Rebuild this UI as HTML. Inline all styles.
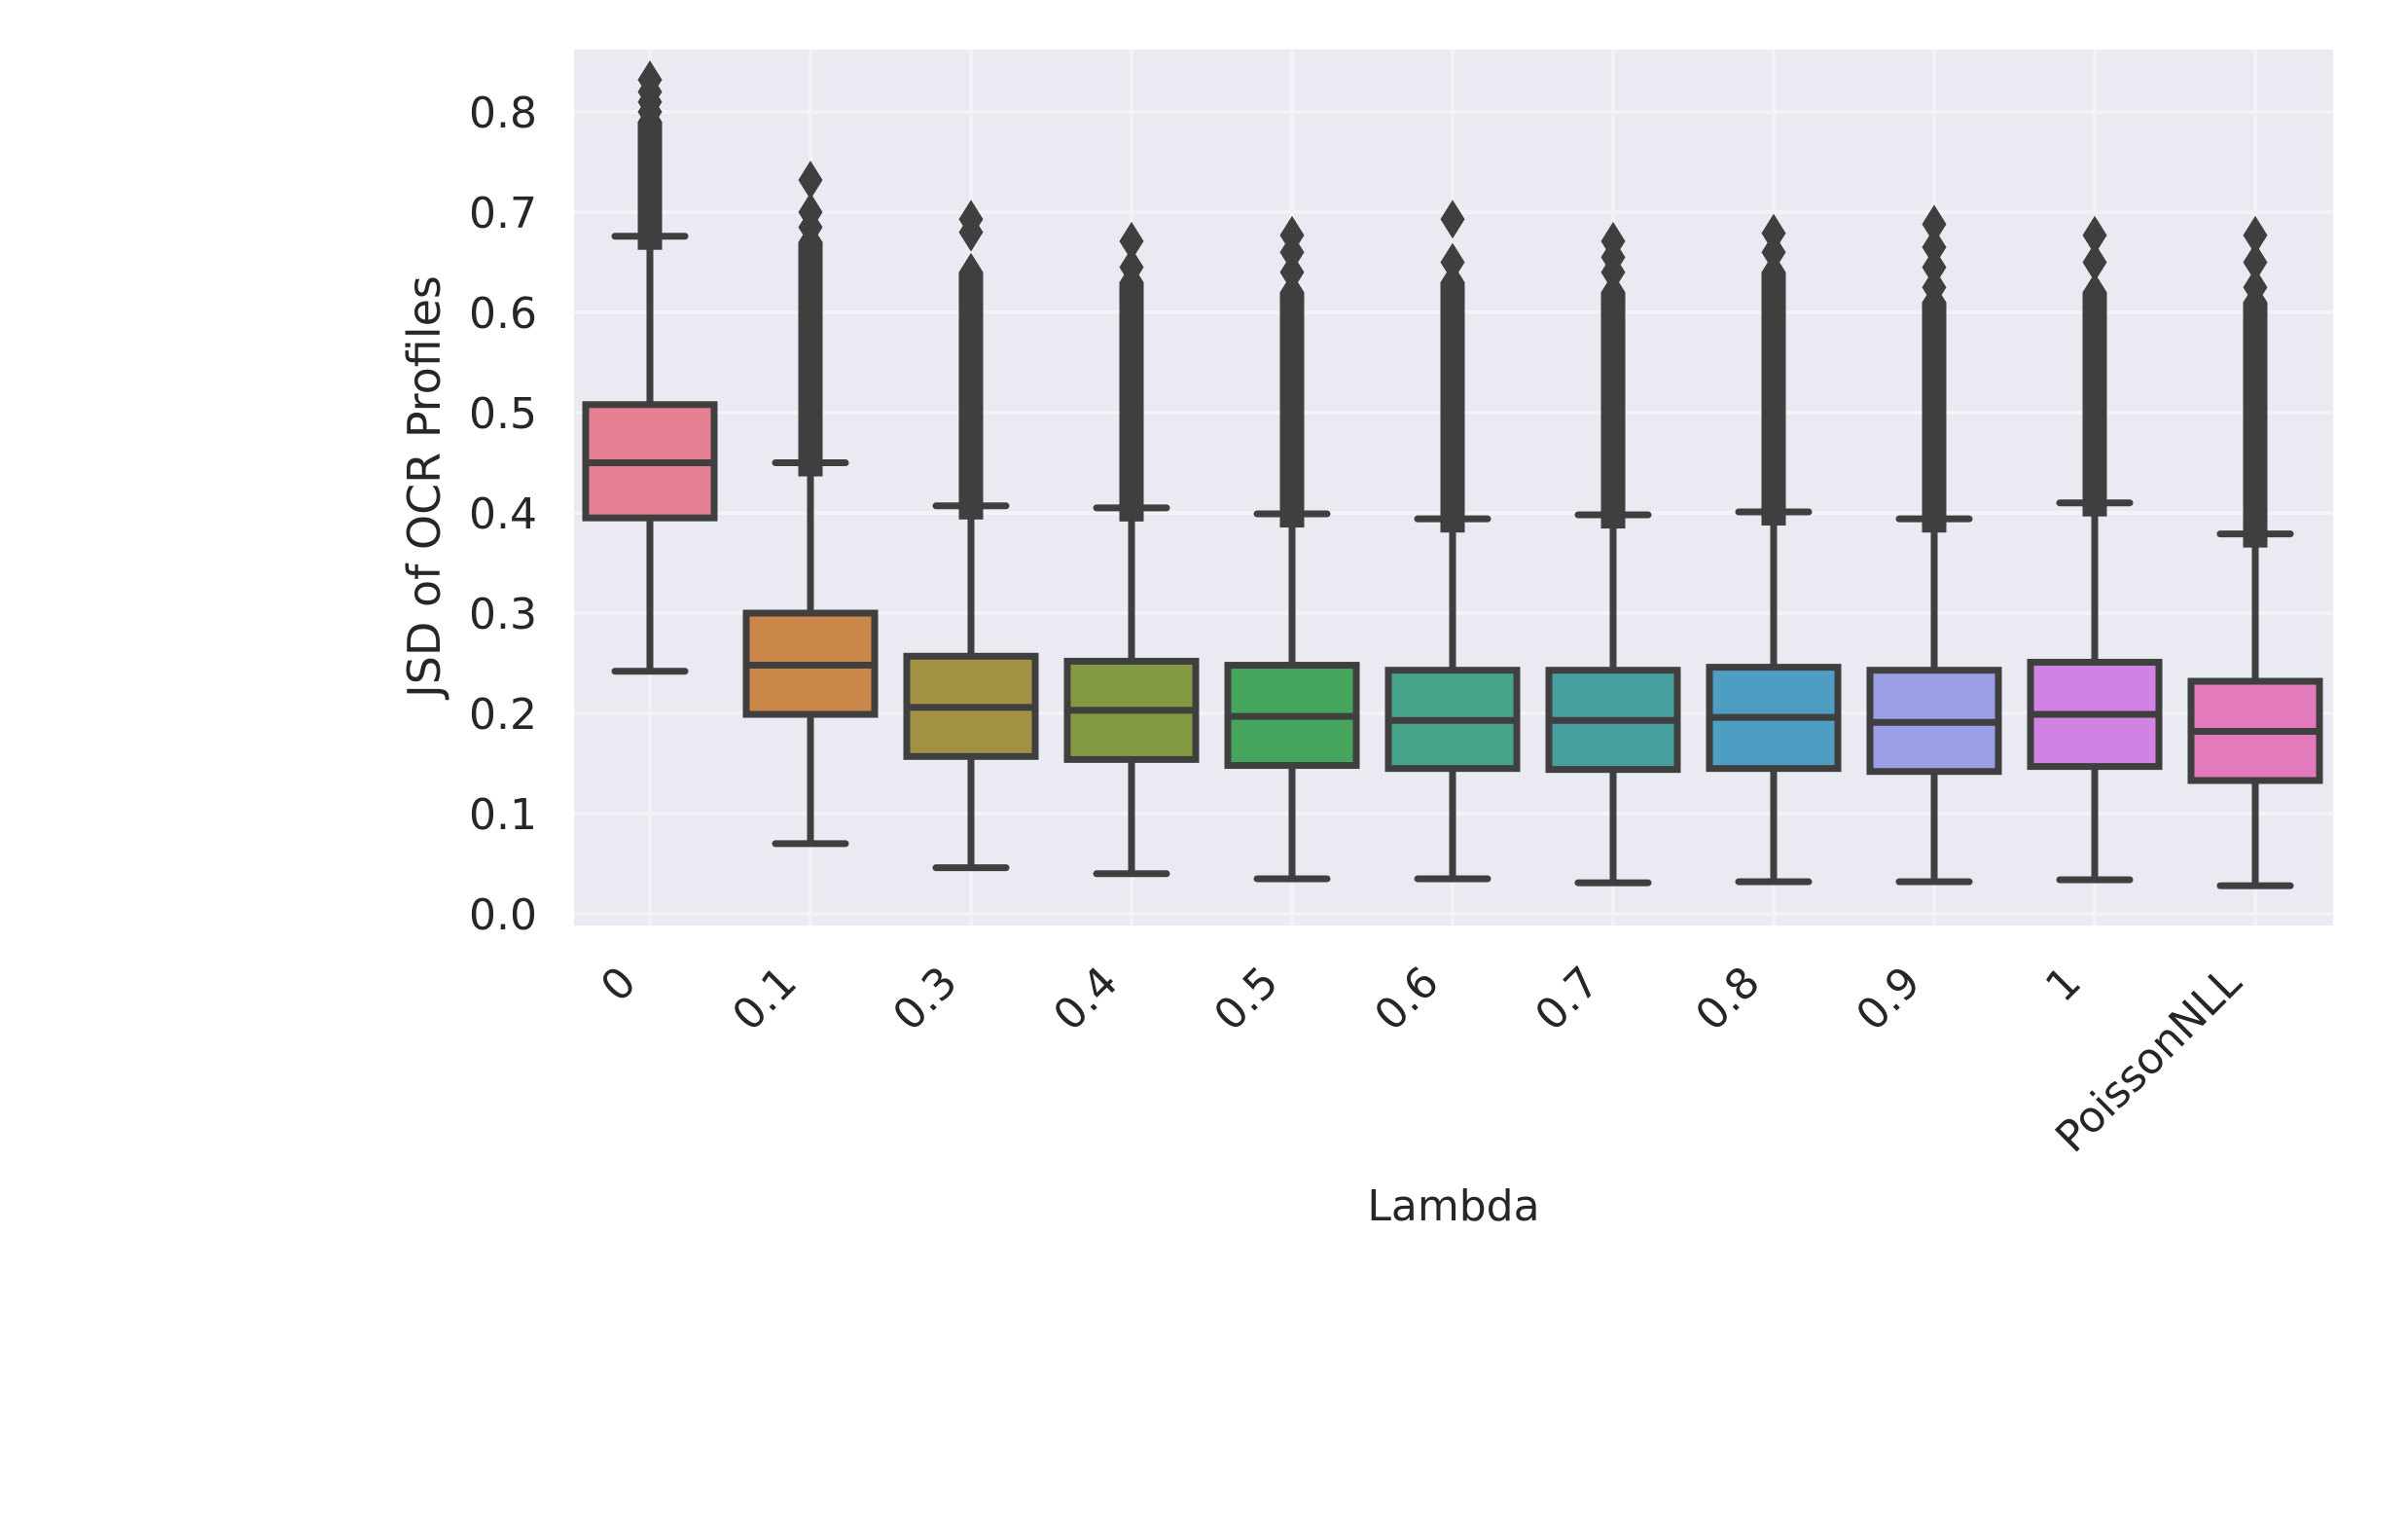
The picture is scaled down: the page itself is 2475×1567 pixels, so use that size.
<!DOCTYPE html>
<html><head><meta charset="utf-8"><style>
html,body{margin:0;padding:0;background:#fff;}
svg{display:block;font-family:"DejaVu Sans","Liberation Sans",sans-serif;}
</style></head><body>
<svg id="chart" width="2475" height="1567" viewBox="0 0 2475 1567" xmlns="http://www.w3.org/2000/svg">
<rect x="590" y="51" width="1808" height="900" fill="#eaeaf2"/>
<g id="grid"></g>
<g id="boxes"></g>
<g id="yticks"></g>
<g id="xticks"></g>
<text x="1494" y="1254" font-size="44" fill="#262626" text-anchor="middle">Lambda</text>
<text x="0" y="0" font-size="46" fill="#262626" text-anchor="middle" transform="translate(452,500) rotate(-90)">JSD of OCR Profiles</text>
</svg>
<script>
const categories = ["0","0.1","0.3","0.4","0.5","0.6","0.7","0.8","0.9","1","PoissonNLL"];
const q1 = [0.395,0.199,0.157,0.154,0.148,0.145,0.144,0.145,0.142,0.147,0.133];
const medians = [0.450,0.248,0.206,0.203,0.197,0.193,0.193,0.196,0.191,0.199,0.182];
const q3 = [0.508,0.300,0.257,0.252,0.248,0.243,0.243,0.246,0.243,0.251,0.232];
const whiskerLow = [0.242,0.070,0.046,0.040,0.035,0.035,0.031,0.032,0.032,0.034,0.028];
const whiskerHigh = [0.676,0.450,0.407,0.405,0.399,0.394,0.398,0.401,0.394,0.410,0.379];
const denseOutlierTop = [0.790,0.670,0.640,0.630,0.620,0.630,0.620,0.640,0.610,0.620,0.610];
const sparseOutliers = [
  [0.80,0.81,0.82,0.832],
  [0.685,0.70,0.732],
  [0.68,0.693],
  [0.645,0.671],
  [0.64,0.66,0.677],
  [0.65,0.693],
  [0.64,0.655,0.671],
  [0.66,0.679],
  [0.625,0.645,0.665,0.688],
  [0.65,0.677],
  [0.625,0.65,0.677]
];
const colors = ["#e58093","#c9874a","#a39143","#849a42","#45a55c","#47a38a","#479f9f","#4e9ec4","#9b9fe6","#d083e3","#e27abb"];
const yTicks = [0.0,0.1,0.2,0.3,0.4,0.5,0.6,0.7,0.8];

const NS = "http://www.w3.org/2000/svg";
const X0 = 668, DX = 165;
function xPos(i){ return X0 + DX*i; }
function yPos(v){ return 939 - v*1030; }
function mk(tag, attrs, parent){
  const e = document.createElementNS(NS, tag);
  for (const k in attrs) e.setAttribute(k, attrs[k]);
  parent.appendChild(e); return e;
}
const grid = document.getElementById('grid');
const boxes = document.getElementById('boxes');
const yt = document.getElementById('yticks');
const xt = document.getElementById('xticks');
const STROKE = "#3f3f3f";

yTicks.forEach(v => {
  const l = mk('line', {x1:590, x2:2398, y1:yPos(v), y2:yPos(v), stroke:"#f3f3f7", "stroke-width":4}, grid);
  
  
  const t = mk('text', {x:552, y:yPos(v)+16, "font-size":44, fill:"#262626", "text-anchor":"end"}, yt);
  t.textContent = v.toFixed(1);
  
  
});
categories.forEach((c, i) => {
  const l = mk('line', {x1:xPos(i), x2:xPos(i), y1:51, y2:951, stroke:"#f3f3f7", "stroke-width":4}, grid);
  
  
  const t = mk('text', {x:0, y:0, "font-size":44, fill:"#262626", "text-anchor":"end", transform:"translate("+(xPos(i)-12)+",1012) rotate(-45)"}, xt);
  t.textContent = c;
  
  
});

const HALF = 66, CAP = 36, SW = 7;
function diamond(g, cx, v){
  const cy = yPos(v);
  const p = mk('path', {d:"M"+cx+" "+(cy-20)+"L"+(cx+12.5)+" "+cy+"L"+cx+" "+(cy+20)+"L"+(cx-12.5)+" "+cy+"Z", fill:STROKE}, g);
  
  
}
categories.forEach((c, i) => {
  const g = mk('g', {}, boxes);
  
  
  const cx = xPos(i);
  const dense = mk('rect', {x:cx-12.5, y:yPos(denseOutlierTop[i]), width:25, height:yPos(whiskerHigh[i])-yPos(denseOutlierTop[i])+14, fill:STROKE}, g);
  
  
  diamond(g, cx, whiskerHigh[i]+0.002);
  diamond(g, cx, denseOutlierTop[i]);
  sparseOutliers[i].forEach(v => diamond(g, cx, v));
  const wl = mk('line', {x1:cx, x2:cx, y1:yPos(whiskerHigh[i]), y2:yPos(whiskerLow[i]), stroke:STROKE, "stroke-width":SW}, g);
  
  
  [whiskerHigh[i], whiskerLow[i]].forEach(v => {
    const cap = mk('line', {x1:cx-CAP, x2:cx+CAP, y1:yPos(v), y2:yPos(v), stroke:STROKE, "stroke-width":SW, "stroke-linecap":"round"}, g);
    
    
  });
  const r = mk('rect', {x:cx-HALF, y:yPos(q3[i]), width:HALF*2, height:yPos(q1[i])-yPos(q3[i]), fill:colors[i], stroke:STROKE, "stroke-width":SW}, g);
  
  
  const m = mk('line', {x1:cx-HALF, x2:cx+HALF, y1:yPos(medians[i]), y2:yPos(medians[i]), stroke:STROKE, "stroke-width":SW}, g);
  
  
});
</script>
</body></html>
